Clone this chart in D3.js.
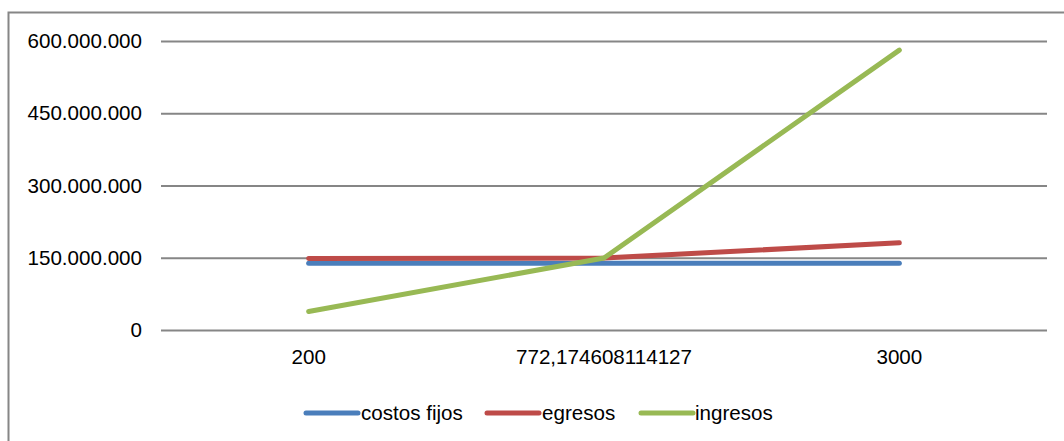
<!DOCTYPE html>
<html>
<head>
<meta charset="utf-8">
<script src="https://cdn.jsdelivr.net/npm/d3@7"></script>
<style>
  html, body { margin: 0; padding: 0; background: #fff; }
  svg { display: block; }
  text { font-family: "Liberation Sans", Arial, sans-serif; fill: #000; }
</style>
</head>
<body>
<script>
// Break-even chart: fixed costs, total costs and revenue by quantity
const categories = ["200", "772,174608114127", "3000"];
const costosFijos = [138500000, 138500000, 138500000];
const egresos = [148500000, 149500000, 181000000];
const ingresos = [38500000, 149500000, 581000000];
const yTicks = [0, 150000000, 300000000, 450000000, 600000000];

const series = [
  { name: "costos fijos", values: costosFijos, color: "#4a7ebb" },
  { name: "egresos", values: egresos, color: "#be4b48" },
  { name: "ingresos", values: ingresos, color: "#98b954" }
];

const W = 1064, H = 441;
const plot = { left: 161, right: 1047, top: 41, bottom: 330 };
const FONT = 20.6;

const svg = d3.select("body").append("svg").attr("width", W).attr("height", H);

// chart frame
svg.append("rect")
  .attr("x", 8.5).attr("y", 12.5)
  .attr("width", W + 20).attr("height", H + 20)
  .attr("fill", "none").attr("stroke", "#868686").attr("stroke-width", 2);

const x = d3.scaleBand().domain(categories).range([plot.left, plot.right]);
const y = d3.scaleLinear().domain([0, 600000000]).range([plot.bottom, plot.top]);

const fmt = v => d3.format(",")(v).replace(/,/g, ".");

// gridlines and value labels
const yAxis = d3.axisLeft(y).tickValues(yTicks).tickFormat(fmt)
  .tickSize(-(plot.right - plot.left)).tickPadding(19);
const gy = svg.append("g").attr("transform", `translate(${plot.left},0)`).call(yAxis);
gy.select(".domain").remove();
gy.selectAll(".tick line").attr("stroke", "#868686").attr("stroke-width", 2);
gy.selectAll(".tick text").attr("font-size", FONT).style("font-family", "Liberation Sans, Arial, sans-serif");

// category labels
const xAxis = d3.axisBottom(x).tickSize(0).tickPadding(19);
const gx = svg.append("g").attr("transform", `translate(0,${plot.bottom})`).call(xAxis);
gx.select(".domain").remove();
gx.selectAll(".tick text").attr("font-size", FONT).style("font-family", "Liberation Sans, Arial, sans-serif");

// series lines
const line = d3.line()
  .x((d, i) => x(categories[i]) + x.bandwidth() / 2)
  .y(d => y(d));

series.forEach(s => {
  svg.append("path")
    .attr("d", line(s.values))
    .attr("fill", "none")
    .attr("stroke", s.color)
    .attr("stroke-width", 5)
    .attr("stroke-linecap", "round")
    .attr("stroke-linejoin", "round");
});

// legend
const legendY = 413;
const legendItems = [
  { x0: 306, tx: 361 },
  { x0: 487, tx: 542 },
  { x0: 641, tx: 695 }
];
series.forEach((s, i) => {
  const it = legendItems[i];
  svg.append("line")
    .attr("x1", it.x0).attr("x2", it.x0 + 52)
    .attr("y1", legendY).attr("y2", legendY)
    .attr("stroke", s.color).attr("stroke-width", 5)
    .attr("stroke-linecap", "round");
  svg.append("text")
    .attr("x", it.tx).attr("y", legendY)
    .attr("dy", "0.35em")
    .attr("font-size", FONT)
    .text(s.name);
});
</script>
</body>
</html>
